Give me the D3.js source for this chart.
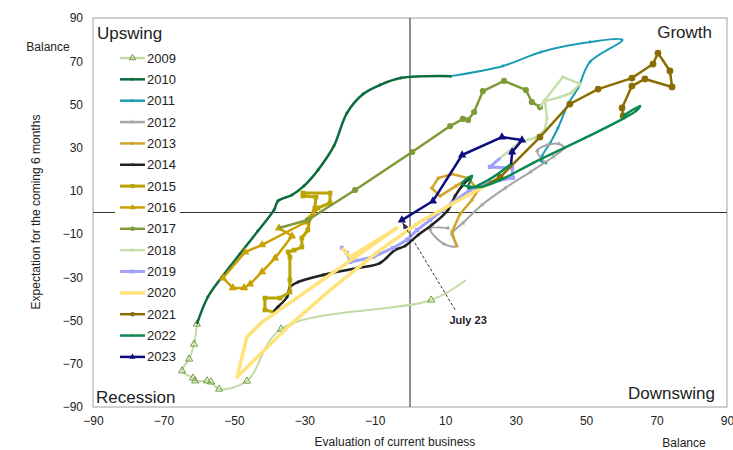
<!DOCTYPE html>
<html lang="en">
<head>
  <meta charset="UTF-8">
  <title>Business cycle clock</title>
  <script src="https://d3js.org/d3.v7.min.js"></script>
  <style>
    body { margin: 0; background: #fff; }
    text { font-family: "Liberation Sans", Arial, sans-serif; fill: #222; }
  </style>
</head>
<body>
<div id="chart"></div>
<script>

// values: [current business, expectations]
const years = [2009, 2010, 2011, 2012, 2013, 2014, 2015, 2016, 2017, 2018, 2019, 2020, 2021, 2022, 2023];
const tickValues = [-90, -70, -50, -30, -10, 10, 30, 50, 70, 90];

const y2009 = [[15.9,-31.2],[6.0,-40.5],[-36.6,-53.9],[-46.3,-78],[-54.2,-81.7],[-56.5,-78.4],[-57.6,-77.9],[-61.0,-77.9],[-61.6,-76.6],[-64.7,-73.3],[-62.7,-67.8],[-61.3,-60.9],[-60.5,-51.6]];
const y2010 = [[-60.5,-51.6],[-57.4,-39.1],[-53.4,-29.8],[-48.3,-19.2],[-43.2,-8.6],[-38.6,1.2],[-37.5,5.3],[-33.5,8.1],[-30.1,12.3],[-26.1,19.7],[-21.6,30.8],[-17.9,46.0],[-13.3,54.8],[-8.5,59.0],[-2.6,62.2],[11.6,63.1]];
const y2011 = [[11.6,63.1],[26.4,67.8],[37.2,74.3],[51.1,78.9],[60.2,79.8],[51.1,69.7],[47.7,57.6],[44.9,50.2],[42.0,39.1],[39.8,32.2],[37.5,26.1],[37.2,23.8],[38.6,22.9]];
const y2012 = [[38.6,22.9],[36.1,28.5],[38.9,31.2],[42.3,31.7],[43.7,29.8],[40.6,25.7],[34.1,18.7],[27.0,11.3],[20.4,3.5],[15.0,-4.9],[11.9,-9.9],[13.3,-15.5],[9.7,-14.6],[5.7,-7.6],[10.8,-7.2]];
const y2013 = [[13.3,-16.0],[11.9,-9.0],[14.2,-0.7],[17.6,5.8],[19.3,10.4],[16.5,15.9],[11.9,17.8],[8.0,15.9],[6.2,11.3],[8.5,7.6],[13.1,12.3],[17.0,16.0]];
const y2014 = [[17.0,16.0],[14.8,12.3],[12.8,7.6],[10.8,1.2],[6.2,-5.8],[2.3,-10.4],[-1.4,-15.5],[-4.3,-17.4],[-8.5,-23.4],[-15.0,-25.7],[-24.7,-28.9],[-31.8,-32.2],[-34.1,-34.5],[-34.9,-39.1],[-37.5,-43.7],[-38.9,-46.0]];
const y2015 = [[-38.9,-46.0],[-41.2,-45.1],[-41.2,-39.6],[-36.9,-39.6],[-34.1,-36.8],[-34.1,-31.2],[-34.1,-20.6],[-34.6,-18.3],[-32.9,-17.4],[-30.7,-16.0],[-30.7,-11.8],[-29.0,-8.1],[-28.4,-2.5],[-27.0,2.1],[-26.7,7.2],[-30.4,7.6],[-30.4,9.0],[-22.7,9.0],[-22.7,4.4],[-26.1,2.1]];
const y2016 = [[-26.1,2.1],[-29.5,-4.4],[-42.0,-15.0],[-46.8,-18.3],[-53.1,-30.3],[-50.3,-34.9],[-47.1,-34.9],[-45.4,-33.1],[-42.0,-27.5],[-38.3,-21.1],[-33.5,-10.9],[-37.2,-7.2]];
const y2017 = [[-37.2,-7.2],[-29.0,-3.5],[-15.6,10.4],[0.6,28.0],[11.4,40.0],[15.0,43.3],[16.5,42.8],[18.2,46.5],[20.7,56.2],[26.7,60.9],[32.9,56.7],[34.6,51.1],[36.9,48.8]];
const y2018 = [[36.9,48.8],[38.3,52.1],[43.4,62.7],[48.3,59.5],[45.7,55.3],[42.6,53.4],[38.3,51.6],[38.9,43.7],[38.3,38.2],[35.5,34.5],[31.2,32.6],[25.6,25.2]];
const y2019 = [[25.6,25.2],[22.7,21.1],[29.0,20.6],[29.2,16.0],[22.7,14.1],[17.0,10.4],[11.9,4.4],[5.7,-3.5],[2.0,-8.1],[-0.9,-12.7],[-4.8,-16.4],[-10.5,-20.6],[-17.0,-22.9],[-17.9,-18.7],[-19.3,-16.4]];
const y2020 = [[-19.3,-16.4],[-17.0,-20.6],[-3.7,-7.2],[-42.0,-50.7],[-46.3,-57.6],[-49.1,-76.1],[-34.1,-52.1],[-22.7,-35.9],[-8.5,-17.4],[2.8,-4.4],[11.4,3.5],[21.3,12.3]];
const y2021 = [[21.3,12.3],[25.6,16.4],[36.9,34.9],[45.4,50.2],[53.4,57.1],[63.0,62.2],[69.0,68.7],[70.4,73.8],[73.8,65.5],[74.4,58.1],[66.7,61.8],[63.0,58.5],[60.2,48.4],[60.5,44.7]];
const y2022 = [[60.5,44.7],[65.3,49.3],[64.2,47.0],[60.8,43.7],[49.7,34.5],[34.9,22.9],[25.6,15.0],[19.9,11.8],[14.8,13.2],[17.6,16.9],[16.5,11.3],[22.7,15.5],[28.7,22.4]];
const y2023 = [[28.7,22.4],[29.0,28.0],[31.8,33.5],[26.1,34.9],[14.8,26.6],[6.5,5.3],[-2.3,-3.5]];

const series = [y2009, y2010, y2011, y2012, y2013, y2014, y2015, y2016, y2017, y2018, y2019, y2020, y2021, y2022, y2023];

// annotation: label position and arrow tail, in data units
const noteLabel = "July 23";
const notePos = [16.5, -51.5];
const noteTail = [12.8, -45.0];

// look of each year
const styles = {
  2009: {color: "#c3dba5", width: 2,   curve: true,  marker: "triangle", size: 22, fill: "none", stroke: "#6e9b3e"},
  2010: {color: "#0c6b3c", width: 2.5, curve: true,  marker: "circle",   size: 7},
  2011: {color: "#1c9cb2", width: 2,   curve: true,  marker: "circle",   size: 7},
  2012: {color: "#a5a5a5", width: 2,   curve: true,  marker: "triangle", size: 9},
  2013: {color: "#cfa52b", width: 2.5, curve: false, marker: "square",   size: 9},
  2014: {color: "#222222", width: 2.5, curve: true,  marker: "circle",   size: 7},
  2015: {color: "#b9a400", width: 3,   curve: false, marker: "square",   size: 22},
  2016: {color: "#c9a000", width: 2.5, curve: false, marker: "triangle", size: 30},
  2017: {color: "#7e9b38", width: 2.5, curve: false, marker: "circle",   size: 30},
  2018: {color: "#c6dfaa", width: 2.5, curve: false, marker: "cross",    size: 8},
  2019: {color: "#a0a0ff", width: 3,   curve: false, marker: "square",   size: 18},
  2020: {color: "#ffe27a", width: 3.5, curve: false, marker: null},
  2021: {color: "#8b6c00", width: 2.5, curve: false, marker: "circle",   size: 36},
  2022: {color: "#0a8a50", width: 2.5, curve: true,  marker: "circle",   size: 5},
  2023: {color: "#0c0c7e", width: 2.5, curve: false, marker: "triangle", size: 30}
};

const w = 733;
const h = 450;
const margin = {top: 18, right: 6, bottom: 43, left: 93};
const gw = w - margin.left - margin.right;
const gh = h - margin.top - margin.bottom;

const svg = d3.select("#chart").append("svg")
  .attr("width", w)
  .attr("height", h);

const defs = svg.append("defs");
defs.append("marker")
  .attr("id", "arrow")
  .attr("viewBox", "0 0 10 10")
  .attr("refX", 9).attr("refY", 5)
  .attr("markerWidth", 7).attr("markerHeight", 7)
  .attr("orient", "auto")
  .append("path")
    .attr("d", "M0,1 L10,5 L0,9 Z")
    .attr("fill", "#333");

const graph = svg.append("g")
  .attr("transform", `translate(${margin.left},${margin.top})`);

const x = d3.scaleLinear().domain([-90, 90]).range([0, gw]);
const y = d3.scaleLinear().domain([-90, 90]).range([gh, 0]);

// frame
graph.append("rect")
  .attr("width", gw).attr("height", gh)
  .attr("fill", "none")
  .attr("stroke", "#a0a0a0");

// zero lines
graph.append("line")
  .attr("x1", 0).attr("x2", gw)
  .attr("y1", y(0)).attr("y2", y(0))
  .attr("stroke", "#333");
graph.append("line")
  .attr("x1", x(0)).attr("x2", x(0))
  .attr("y1", 0).attr("y2", gh)
  .attr("stroke", "#222");

// axes
const xAxis = d3.axisBottom(x).tickValues(tickValues).tickSize(0).tickPadding(9);
const yAxis = d3.axisLeft(y).tickValues(tickValues).tickSize(0).tickPadding(10);

const xAxisGroup = graph.append("g")
  .attr("transform", `translate(0, ${gh})`)
  .call(xAxis);
const yAxisGroup = graph.append("g").call(yAxis);

[xAxisGroup, yAxisGroup].forEach(g => {
  g.select(".domain").remove();
  g.selectAll("text")
    .attr("font-size", 12)
    .attr("font-family", "Liberation Sans, Arial, sans-serif")
    .attr("fill", "#222");
});

// axis titles
svg.append("text")
  .attr("x", 48).attr("y", 51)
  .attr("text-anchor", "middle")
  .attr("font-size", 12)
  .text("Balance");
svg.append("text")
  .attr("x", 684).attr("y", 447)
  .attr("text-anchor", "middle")
  .attr("font-size", 12)
  .text("Balance");
svg.append("text")
  .attr("x", 395).attr("y", 446)
  .attr("text-anchor", "middle")
  .attr("font-size", 12)
  .text("Evaluation of current business");
svg.append("text")
  .attr("transform", `translate(40, 212) rotate(-90)`)
  .attr("text-anchor", "middle")
  .attr("font-size", 12)
  .text("Expectation for the coming 6 months");

// quadrant names
const quads = [
  {t: "Upswing",   x: 4,      y: 21,     a: "start"},
  {t: "Growth",    x: gw - 15, y: 20,     a: "end"},
  {t: "Recession", x: 3,      y: gh - 4, a: "start"},
  {t: "Downswing", x: gw - 12, y: gh - 8, a: "end"}
];
graph.selectAll(".quad")
  .data(quads)
  .enter()
  .append("text")
    .attr("class", "quad")
    .attr("x", d => d.x)
    .attr("y", d => d.y)
    .attr("text-anchor", d => d.a)
    .attr("font-size", 17)
    .text(d => d.t);

// legend background (hides the zero line behind it)
graph.append("rect")
  .attr("x", 22).attr("y", 28)
  .attr("width", 65).attr("height", 324)
  .attr("fill", "#fff");

const symbolOf = {
  circle: d3.symbolCircle,
  square: d3.symbolSquare,
  triangle: d3.symbolTriangle,
  cross: d3.symbolCross
};

// lines
const lineSmooth = d3.line().x(d => x(d[0])).y(d => y(d[1])).curve(d3.curveCatmullRom.alpha(0.5));
const lineStraight = d3.line().x(d => x(d[0])).y(d => y(d[1]));

series.forEach((data, i) => {
  const s = styles[years[i]];
  const g = graph.append("g");
  g.append("path")
    .datum(data)
    .attr("d", s.curve ? lineSmooth : lineStraight)
    .attr("fill", "none")
    .attr("stroke", s.color)
    .attr("stroke-width", s.width)
    .attr("stroke-linejoin", "round");
  if (s.marker) {
    g.selectAll("path.pt")
      .data(data.slice(1))
      .enter()
      .append("path")
        .attr("class", "pt")
        .attr("d", d3.symbol().type(symbolOf[s.marker]).size(s.size))
        .attr("transform", d => `translate(${x(d[0])},${y(d[1])})`)
        .attr("fill", s.fill || s.color)
        .attr("stroke", s.stroke || "none")
        .attr("stroke-width", 1);
  }
});

// annotation
const last = y2023[y2023.length - 1];
graph.append("line")
  .attr("x1", x(noteTail[0])).attr("y1", y(noteTail[1]))
  .attr("x2", x(last[0]) + 1).attr("y2", y(last[1]) + 3)
  .attr("stroke", "#333")
  .attr("stroke-dasharray", "3,2")
  .attr("marker-end", "url(#arrow)");
graph.append("text")
  .attr("x", x(notePos[0])).attr("y", y(notePos[1]))
  .attr("text-anchor", "middle")
  .attr("font-size", 11)
  .attr("font-weight", "bold")
  .text(noteLabel);

// legend
const legend = graph.append("g")
  .attr("transform", "translate(27, 40)");

const rows = legend.selectAll("g")
  .data(years)
  .enter()
  .append("g")
    .attr("transform", (d, i) => `translate(0, ${i * 21.35})`);

rows.append("line")
  .attr("x1", 0).attr("x2", 25)
  .attr("stroke", d => styles[d].color)
  .attr("stroke-width", d => Math.max(styles[d].width, 2.5));

rows.filter(d => styles[d].marker)
  .append("path")
    .attr("transform", "translate(12.5,0)")
    .attr("d", d => d3.symbol().type(symbolOf[styles[d].marker]).size(Math.min(styles[d].size, 16))())
    .attr("fill", d => styles[d].fill || styles[d].color)
    .attr("stroke", d => styles[d].stroke || "none");

rows.append("text")
  .attr("x", 27)
  .attr("dy", "0.35em")
  .attr("font-size", 13)
  .text(d => d);

</script>
</body>
</html>
